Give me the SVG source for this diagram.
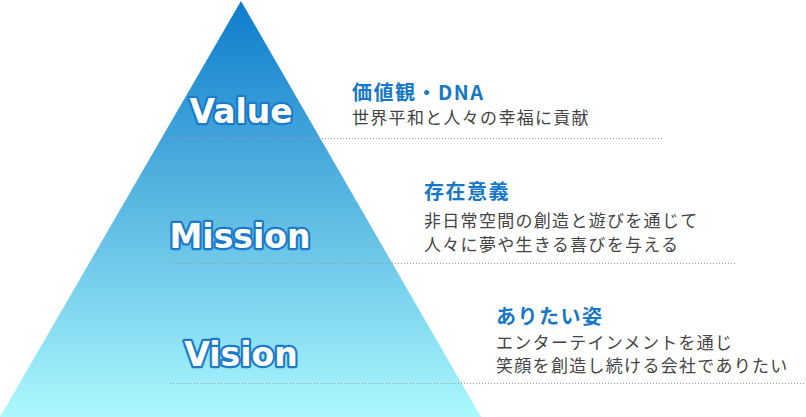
<svg xmlns="http://www.w3.org/2000/svg" width="806" height="417" viewBox="0 0 806 417">
<style>
.lbl{font-family:"DejaVu Sans",Verdana,sans-serif;font-weight:bold;font-size:33px;fill:#fff;stroke:#1a7acb;stroke-width:4.5;paint-order:stroke;stroke-linejoin:round;text-anchor:middle}
.ttl{font-family:"Noto Sans CJK JP",sans-serif;font-weight:bold;font-size:20px;fill:#1878c8;letter-spacing:1.5px}
.sub{font-family:"Noto Sans CJK JP",sans-serif;font-size:17px;fill:#444;letter-spacing:1.3px}
.dot{stroke:#999;stroke-width:1;stroke-dasharray:1 2;fill:none}
</style>
<defs>
<linearGradient id="g" x1="0" y1="0" x2="0" y2="1">
<stop offset="0" stop-color="#0c7ccc"/>
<stop offset="0.5" stop-color="#5cb9e2"/>
<stop offset="1" stop-color="#abf9fe"/>
</linearGradient>
</defs>
<g id="pyramid"><polygon points="241,1 481,417 0,417" fill="url(#g)"/></g>
<g id="connectors">
<line class="dot" x1="172" y1="138.5" x2="664" y2="138.5"/>
<line class="dot" x1="170" y1="263.5" x2="737" y2="263.5"/>
<line class="dot" x1="170" y1="383.5" x2="806" y2="383.5"/>
</g>
<g id="value">
<text class="lbl" x="241" y="123">Value</text>
<text class="ttl" x="352" y="100">価値観・DNA</text>
<text class="sub" x="352" y="124">世界平和と人々の幸福に貢献</text>
</g>
<g id="mission">
<text class="lbl" x="240" y="248">Mission</text>
<text class="ttl" x="424" y="199">存在意義</text>
<text class="sub" x="424" y="227">非日常空間の創造と遊びを通じて</text>
<text class="sub" x="424" y="251">人々に夢や生きる喜びを与える</text>
</g>
<g id="vision">
<text class="lbl" x="241" y="366">Vision</text>
<text class="ttl" x="496" y="324">ありたい姿</text>
<text class="sub" x="496" y="349">エンターテインメントを通じ</text>
<text class="sub" x="496" y="372">笑顔を創造し続ける会社でありたい</text>
</g>
</svg>
